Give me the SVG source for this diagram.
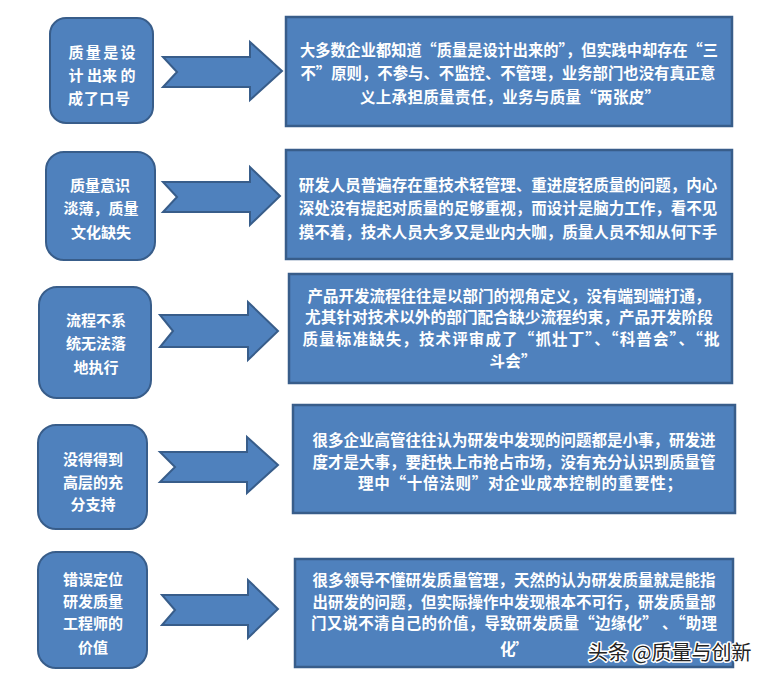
<svg xmlns="http://www.w3.org/2000/svg" width="768" height="679" viewBox="0 0 768 679">
<defs>
<style>
.bg{fill:#ffffff}
.lbox{fill:#4F81BD;stroke:#385D8A;stroke-width:2}
.rbox{fill:#4F81BD;stroke:#385D8A;stroke-width:2.5}
.arrow{fill:#4F81BD;stroke:#385D8A;stroke-width:2}
.lt{font-family:"Noto Sans CJK SC","Noto Sans",sans-serif;font-size:15px;font-weight:bold;fill:#ffffff;text-anchor:middle}
.rt{font-family:"Noto Sans CJK SC","Noto Sans",sans-serif;font-size:15.5px;font-weight:bold;fill:#ffffff;text-anchor:middle}
.wm{font-family:"Noto Sans CJK SC","Noto Sans",sans-serif;font-size:20px;fill:#222222;stroke:#ffffff;stroke-width:3;paint-order:stroke;stroke-linejoin:round}
</style>
</defs>
<rect class="bg" x="0" y="0" width="768" height="679"/>

<g id="connectors">
<polygon class="arrow" points="163,57 250,57 250,42 282,71 250,100 250,87 163,87 177,72"/>
<polygon class="arrow" points="163,182 250,182 250,167 280,196 250,225 250,212 163,212 177,197"/>
<polygon class="arrow" points="160,315 248,315 248,302 278,331 248,360 248,347 160,347 173,331"/>
<polygon class="arrow" points="160,452 247,452 247,437 278,465 247,493 247,482 160,482 175,467"/>
<polygon class="arrow" points="162,595 248,595 248,580 278,609 248,638 248,625 162,625 175,610"/>
</g>

<g id="cause1">
<rect class="lbox" x="50" y="18" width="103" height="105" rx="16"/>
<text class="lt" x="102" y="58" textLength="67" lengthAdjust="spacing">质量是设</text>
<text class="lt" x="102" y="81" textLength="67" lengthAdjust="spacing" xml:space="preserve">计 出来 的</text>
<text class="lt" x="99" y="104" textLength="62" lengthAdjust="spacing">成了口号</text>
</g>
<g id="desc1">
<rect class="rbox" x="286" y="17" width="446" height="109"/>
<text class="rt" x="509" y="56" textLength="418" lengthAdjust="spacingAndGlyphs">大多数企业都知道“质量是设计出来的”，但实践中却存在“三</text>
<text class="rt" x="508" y="79" textLength="415" lengthAdjust="spacingAndGlyphs">不”原则，不参与、不监控、不管理，业务部门也没有真正意</text>
<text class="rt" x="510" y="103" textLength="300" lengthAdjust="spacing">义上承担质量责任，业务与质量“两张皮”</text>
</g>

<g id="cause2">
<rect class="lbox" x="46" y="152" width="109" height="108" rx="18"/>
<text class="lt" x="100" y="191">质量意识</text>
<text class="lt" x="101" y="214">淡薄，质量</text>
<text class="lt" x="101" y="238">文化缺失</text>
</g>
<g id="desc2">
<rect class="rbox" x="286" y="150" width="446" height="109"/>
<text class="rt" x="508" y="191">研发人员普遍存在重技术轻管理、重进度轻质量的问题，内心</text>
<text class="rt" x="508" y="214">深处没有提起对质量的足够重视，而设计是脑力工作，看不见</text>
<text class="rt" x="508" y="238">摸不着，技术人员大多又是业内大咖，质量人员不知从何下手</text>
</g>

<g id="cause3">
<rect class="lbox" x="39" y="287" width="112" height="111" rx="18"/>
<text class="lt" x="96" y="326">流程不系</text>
<text class="lt" x="96" y="349">统无法落</text>
<text class="lt" x="96" y="373">地执行</text>
</g>
<g id="desc3">
<rect class="rbox" x="289" y="274" width="443" height="109"/>
<text class="rt" x="509" y="302" textLength="403" lengthAdjust="spacingAndGlyphs">产品开发流程往往是以部门的视角定义，没有端到端打通，</text>
<text class="rt" x="509" y="323" textLength="408" lengthAdjust="spacingAndGlyphs">尤其针对技术以外的部门配合缺少流程约束，产品开发阶段</text>
<text class="rt" x="511" y="345" textLength="417" lengthAdjust="spacing">质量标准缺失，技术评审成了“抓壮丁”、“科普会”、“批</text>
<text class="rt" x="513" y="367" textLength="47" lengthAdjust="spacing">斗会”</text>
</g>

<g id="cause4">
<rect class="lbox" x="38" y="425" width="109" height="104" rx="18"/>
<text class="lt" x="93" y="465">没得得到</text>
<text class="lt" x="93" y="488">高层的充</text>
<text class="lt" x="93" y="510">分支持</text>
</g>
<g id="desc4">
<rect class="rbox" x="293" y="405" width="442" height="108"/>
<text class="rt" x="514" y="446">很多企业高管往往认为研发中发现的问题都是小事，研发进</text>
<text class="rt" x="514" y="468">度才是大事，要赶快上市抢占市场，没有充分认识到质量管</text>
<text class="rt" x="520" y="489" textLength="324" lengthAdjust="spacing">理中“十倍法则”对企业成本控制的重要性；</text>
</g>

<g id="cause5">
<rect class="lbox" x="38" y="552" width="109" height="116" rx="18"/>
<text class="lt" x="93" y="585">错误定位</text>
<text class="lt" x="93" y="607">研发质量</text>
<text class="lt" x="93" y="629">工程师的</text>
<text class="lt" x="93" y="653">价值</text>
</g>
<g id="desc5">
<rect class="rbox" x="295" y="559" width="438" height="108"/>
<text class="rt" x="514" y="586">很多领导不懂研发质量管理，天然的认为研发质量就是能指</text>
<text class="rt" x="514" y="608">出研发的问题，但实际操作中发现根本不可行，研发质量部</text>
<text class="rt" x="514" y="629" textLength="406" lengthAdjust="spacing">门又说不清自己的价值，导致研发质量“边缘化” 、“助理</text>
<text class="rt" x="514" y="655" textLength="28" lengthAdjust="spacing">化”</text>
</g>

<text class="wm" x="588" y="660">头条 @质量与创新</text>
</svg>
